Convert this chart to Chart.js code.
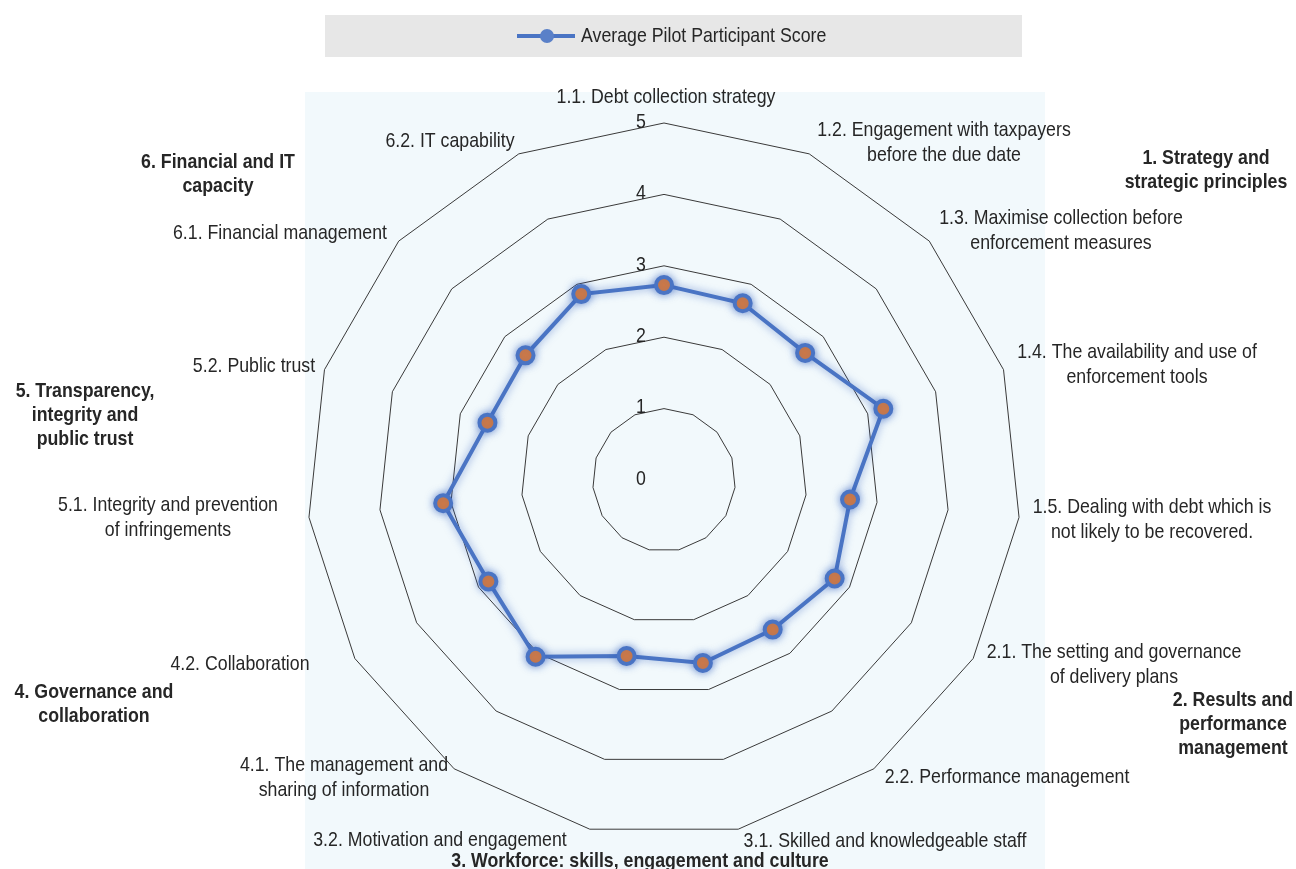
<!DOCTYPE html>
<html>
<head>
<meta charset="utf-8">
<title>Average Pilot Participant Score</title>
<script src="https://cdn.jsdelivr.net/npm/chart.js@4.4.1/dist/chart.umd.min.js"></script>
<style>
  html, body { margin: 0; padding: 0; background: #fff; overflow: hidden; }
  #wrap { width: 1296px; height: 869px; position: relative; }
</style>
</head>
<body>
<div id="wrap"><canvas id="radar"></canvas></div>
<script>
// data
const categories = [
  ['1.1. Debt collection strategy'],
  ['1.2. Engagement with taxpayers', 'before the due date'],
  ['1.3. Maximise collection before', 'enforcement measures'],
  ['1.4. The availability and use of', 'enforcement tools'],
  ['1.5. Dealing with debt which is', 'not likely to be recovered.'],
  ['2.1. The setting and governance', 'of delivery plans'],
  ['2.2. Performance management'],
  ['3.1. Skilled and knowledgeable staff'],
  ['3.2. Motivation and engagement'],
  ['4.1. The management and', 'sharing of information'],
  ['4.2. Collaboration'],
  ['5.1. Integrity and prevention', 'of infringements'],
  ['5.2. Public trust'],
  ['6.1. Financial management'],
  ['6.2. IT capability']
];
const scores = [2.73, 2.71, 2.66, 3.23, 2.62, 2.76, 2.59, 2.62, 2.52, 3.06, 2.84, 3.11, 2.60, 2.61, 2.85];
const tickValues = [0, 1, 2, 3, 4, 5];
const groups = [
  ['1. Strategy and', 'strategic principles'],
  ['2. Results and', 'performance', 'management'],
  ['3. Workforce: skills, engagement and culture'],
  ['4. Governance and', 'collaboration'],
  ['5. Transparency,', 'integrity and', 'public trust'],
  ['6. Financial and IT', 'capacity']
];
const seriesName = 'Average Pilot Participant Score';

// where the hand-placed texts sit (centre x, first line y)
const labelPos = [
  [666, 97], [944, 130], [1061, 218], [1137, 352], [1152, 507],
  [1114, 652], [1007, 777], [885, 841], [440, 840], [344, 765],
  [240, 664], [168, 505], [254, 366], [280, 233], [450, 141]
];
const groupPos = [[1206, 158], [1233, 700], [640, 861], [94, 692], [85, 391], [218, 162]];

const FONT = "'Liberation Sans', Arial, sans-serif";
const SQUASH = 0.845; // the original uses a narrow face
const BLUE = '#4a74c4';
const ORANGE = '#f07f2c';
const TEXT = '#262626';

function narrowText(ctx, t, x, y) {
  ctx.save();
  ctx.translate(x, y);
  ctx.scale(SQUASH, 1);
  ctx.fillText(t, 0, 0);
  ctx.restore();
}

const decor = {
  id: 'decor',
  beforeDraw(chart) {
    const ctx = chart.ctx;
    ctx.save();
    ctx.fillStyle = '#ffffff';
    ctx.fillRect(0, 0, chart.width, chart.height);
    ctx.fillStyle = '#f2f9fc';
    ctx.fillRect(305, 92, 740, chart.height - 92);
    // legend box
    ctx.fillStyle = '#e7e7e7';
    ctx.fillRect(325, 15, 697, 42);
    ctx.strokeStyle = BLUE;
    ctx.lineWidth = 4;
    ctx.beginPath();
    ctx.moveTo(517, 36);
    ctx.lineTo(575, 36);
    ctx.stroke();
    ctx.fillStyle = '#5a80c8';
    ctx.beginPath();
    ctx.arc(547, 36, 7, 0, Math.PI * 2);
    ctx.fill();
    ctx.fillStyle = TEXT;
    ctx.font = '21px ' + FONT;
    ctx.textAlign = 'left';
    ctx.textBaseline = 'middle';
    narrowText(ctx, seriesName, 581, 36);
    ctx.restore();
  },
  beforeDatasetsDraw(chart) {
    const ctx = chart.ctx;
    const r = chart.scales.r;
    ctx.save();
    ctx.fillStyle = TEXT;
    ctx.font = '21px ' + FONT;
    ctx.textAlign = 'center';
    ctx.textBaseline = 'middle';
    tickValues.forEach(v => {
      narrowText(ctx, String(v), r.xCenter - 23, r.yCenter - r.getDistanceFromCenterForValue(v) - 1);
    });
    categories.forEach((lines, i) => {
      lines.forEach((t, k) => narrowText(ctx, t, labelPos[i][0], labelPos[i][1] + k * 25));
    });
    ctx.font = 'bold 21px ' + FONT;
    groups.forEach((lines, i) => {
      lines.forEach((t, k) => narrowText(ctx, t, groupPos[i][0], groupPos[i][1] + k * 24));
    });
    ctx.restore();
    ctx.save();
    ctx.shadowColor = 'rgba(50, 95, 190, 0.6)';
    ctx.shadowBlur = 9;
  },
  afterDatasetsDraw(chart) {
    chart.ctx.restore();
  }
};

new Chart(document.getElementById('radar'), {
  type: 'radar',
  data: {
    labels: categories,
    datasets: [{
      label: seriesName,
      data: scores,
      borderColor: BLUE,
      borderWidth: 4,
      fill: false,
      pointRadius: 8,
      pointHoverRadius: 8,
      pointBorderWidth: 4,
      pointBackgroundColor: ORANGE,
      pointBorderColor: BLUE
    }]
  },
  options: {
    responsive: true,
    maintainAspectRatio: false,
    animation: false,
    layout: { padding: { left: 307, top: 123, right: 275, bottom: 32 } },
    plugins: {
      legend: { display: false },
      tooltip: { enabled: false }
    },
    scales: {
      r: {
        min: 0,
        max: 5,
        ticks: { stepSize: 1, display: false },
        grid: { circular: false, color: '#3a3a3a', lineWidth: 1 },
        angleLines: { display: false },
        pointLabels: { display: false }
      }
    }
  },
  plugins: [decor]
});
</script>
</body>
</html>
